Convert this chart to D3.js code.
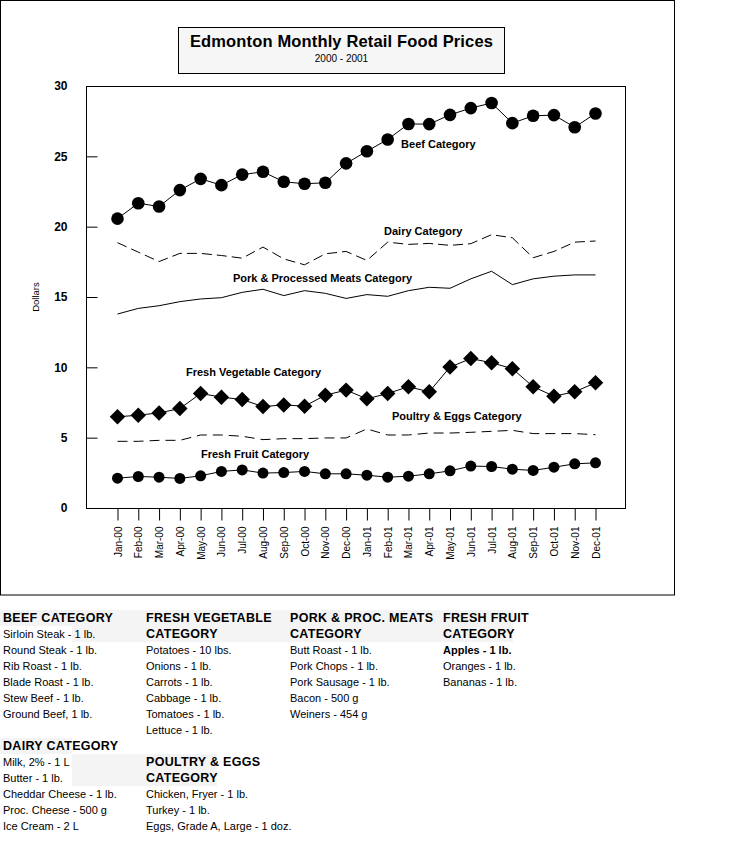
<!DOCTYPE html>
<html><head><meta charset="utf-8">
<script src="https://cdn.jsdelivr.net/npm/d3@7"></script>
<style>body{margin:0;background:#fff}svg{display:block}</style>
</head><body>
<script>
const months = ["Jan-00","Feb-00","Mar-00","Apr-00","May-00","Jun-00","Jul-00","Aug-00","Sep-00","Oct-00","Nov-00","Dec-00",
"Jan-01","Feb-01","Mar-01","Apr-01","May-01","Jun-01","Jul-01","Aug-01","Sep-01","Oct-01","Nov-01","Dec-01"];
const beef = [20.57,21.67,21.43,22.6,23.4,22.95,23.7,23.9,23.19,23.05,23.12,24.5,25.36,26.2,27.3,27.29,27.95,28.43,28.79,27.36,27.88,27.93,27.07,28.05];
const dairy = [18.86,18.19,17.52,18.1,18.1,17.95,17.76,18.55,17.71,17.29,18.07,18.24,17.6,18.9,18.74,18.81,18.67,18.79,19.43,19.21,17.79,18.24,18.9,18.98];
const pork = [13.79,14.19,14.38,14.67,14.86,14.95,15.33,15.55,15.1,15.45,15.26,14.9,15.17,15.05,15.45,15.69,15.62,16.29,16.83,15.88,16.29,16.48,16.57,16.57];
const vegetable = [6.48,6.6,6.76,7.07,8.14,7.88,7.71,7.21,7.33,7.24,8.02,8.38,7.76,8.14,8.62,8.26,10.02,10.62,10.33,9.9,8.62,7.95,8.26,8.9];
const poultry = [4.74,4.74,4.81,4.81,5.19,5.19,5.1,4.86,4.93,4.93,4.98,4.98,5.62,5.19,5.19,5.33,5.33,5.38,5.45,5.52,5.29,5.29,5.29,5.21];
const fruit = [2.12,2.24,2.19,2.1,2.29,2.6,2.71,2.48,2.52,2.6,2.43,2.43,2.33,2.19,2.26,2.43,2.64,2.98,2.95,2.76,2.67,2.9,3.14,3.21];
const yTicks = [0,5,10,15,20,25,30];
// series label anchors: [text, month index (fractional), value]
const seriesLabels = [
  ["Beef Category",13.67,25.57],
  ["Dairy Category",12.85,19.43],
  ["Pork & Processed Meats Category",5.58,16.07],
  ["Fresh Vegetable Category",3.32,9.36],
  ["Poultry & Eggs Category",13.23,6.29],
  ["Fresh Fruit Category",4.04,3.57]
];
const legendCols = [
  {x:3, groups:[
    {head:["BEEF CATEGORY"], items:["Sirloin Steak - 1 lb.","Round Steak - 1 lb.","Rib Roast - 1 lb.","Blade Roast - 1 lb.","Stew Beef - 1 lb.","Ground Beef, 1 lb."]},
    {head:["DAIRY CATEGORY"], items:["Milk, 2% - 1 L","Butter - 1 lb.","Cheddar Cheese - 1 lb.","Proc. Cheese - 500 g","Ice Cream - 2 L"], gap:1}
  ]},
  {x:146, groups:[
    {head:["FRESH VEGETABLE","CATEGORY"], items:["Potatoes - 10 lbs.","Onions - 1 lb.","Carrots - 1 lb.","Cabbage - 1 lb.","Tomatoes - 1 lb.","Lettuce - 1 lb."]},
    {head:["POULTRY & EGGS","CATEGORY"], items:["Chicken, Fryer - 1 lb.","Turkey - 1 lb.","Eggs, Grade A, Large - 1 doz."], gap:1}
  ]},
  {x:290, groups:[
    {head:["PORK & PROC. MEATS","CATEGORY"], items:["Butt Roast - 1 lb.","Pork Chops - 1 lb.","Pork Sausage - 1 lb.","Bacon - 500 g","Weiners - 454 g"]}
  ]},
  {x:443, groups:[
    {head:["FRESH FRUIT","CATEGORY"], items:["Apples - 1 lb.","Oranges - 1 lb.","Bananas - 1 lb."], boldFirst:true}
  ]}
];

const W=731,H=851;
const svg=d3.select("body").append("svg").attr("width",W).attr("height",H);
const plot={l:86,t:86,r:625,b:508};

// outer frame
svg.append("rect").attr("x",0.5).attr("y",0.5).attr("width",674).attr("height",594.5)
  .attr("fill","#fff").attr("stroke","#000");

// title box
svg.append("rect").attr("x",178.5).attr("y",27.5).attr("width",326).attr("height",46)
  .attr("fill","#f6f6f6").attr("stroke","#000");
svg.append("text").attr("x",341.5).attr("y",47).attr("text-anchor","middle")
  .attr("font-family","Liberation Sans, Arial, sans-serif").attr("font-weight","bold").attr("font-size",16.5)
  .attr("letter-spacing",0.15)
  .text("Edmonton Monthly Retail Food Prices");
svg.append("text").attr("x",341.5).attr("y",62).attr("text-anchor","middle")
  .attr("font-family","Liberation Sans, Arial, sans-serif").attr("font-size",10)
  .text("2000 - 2001");

const x=d3.scaleLinear().domain([0,23]).range([117,595]);
const y=d3.scaleLinear().domain([0,30]).range([plot.b,plot.t]);

// plot frame
svg.append("rect").attr("x",plot.l+0.5).attr("y",plot.t+0.5).attr("width",plot.r-plot.l).attr("height",plot.b-plot.t)
  .attr("fill","#fff").attr("stroke","#000");

// y axis
const ya=svg.append("g").attr("transform",`translate(${plot.l+0.5},0)`)
  .call(d3.axisLeft(y).tickValues(yTicks).tickSizeInner(-11).tickSizeOuter(0).tickPadding(19));
ya.select(".domain").remove();
ya.selectAll("line").attr("stroke","#000");
ya.selectAll("text").attr("font-family","Liberation Sans, Arial, sans-serif").attr("font-weight","bold").attr("font-size",12).attr("fill","#000");
svg.append("text").attr("transform","translate(39,297) rotate(-90)").attr("text-anchor","middle")
  .attr("font-family","Liberation Sans, Arial, sans-serif").attr("font-size",9.5).text("Dollars");

// x axis
const xa=svg.append("g").attr("transform",`translate(0.5,${plot.b+0.5})`)
  .call(d3.axisBottom(x).tickValues(d3.range(months.length)).tickFormat(i=>months[i]).tickSizeInner(12).tickSizeOuter(0));
xa.select(".domain").remove();
xa.selectAll("line").attr("stroke","#000");
xa.selectAll("text").attr("transform","rotate(-90)").attr("text-anchor","end")
  .attr("x",-18).attr("y",0).attr("dy","0.35em")
  .attr("font-family","Liberation Sans, Arial, sans-serif").attr("font-size",10).attr("fill","#000");

const line=d3.line().x((d,i)=>x(i)+0.5).y(d=>y(d));
function drawLine(data,dash){
  svg.append("path").datum(data).attr("d",line).attr("fill","none").attr("stroke","#000").attr("stroke-width",1)
    .attr("stroke-dasharray",dash||null);
}
drawLine(dairy,"10,5");
drawLine(pork);
drawLine(poultry,"10,6");
drawLine(beef);
drawLine(vegetable);
drawLine(fruit);

svg.append("g").selectAll("circle").data(beef).join("circle")
  .attr("cx",(d,i)=>x(i)+0.5).attr("cy",d=>y(d)).attr("r",6.3).attr("fill","#000");
svg.append("g").selectAll("path").data(vegetable).join("path")
  .attr("d",d3.symbol(d3.symbolSquare,120))
  .attr("transform",(d,i)=>`translate(${x(i)+0.5},${y(d)}) rotate(45)`).attr("fill","#000");
svg.append("g").selectAll("circle").data(fruit).join("circle")
  .attr("cx",(d,i)=>x(i)+0.5).attr("cy",d=>y(d)).attr("r",5.5).attr("fill","#000");

// series labels
svg.append("g").selectAll("text").data(seriesLabels).join("text")
  .attr("x",d=>x(d[1])).attr("y",d=>y(d[2]))
  .attr("font-family","Liberation Sans, Arial, sans-serif").attr("font-weight","bold").attr("font-size",11)
  .text(d=>d[0]);

// legend background patches
const bg="#f4f4f4";
[[0,610,513,16],[72,626,441,16],[0,738,72,16],[72,754,145,32]].forEach(r=>{
  svg.append("rect").attr("x",r[0]).attr("y",r[1]).attr("width",r[2]).attr("height",r[3]).attr("fill",bg);
});

// legend text
const lh=16, top0=622;
legendCols.forEach(col=>{
  let row=0;
  col.groups.forEach(g=>{
    if(g.gap) row+= g.gap;
    g.head.forEach(h=>{
      svg.append("text").attr("x",col.x).attr("y",top0+row*lh)
        .attr("font-family","Liberation Sans, Arial, sans-serif").attr("font-weight","bold").attr("font-size",12.5)
        .attr("letter-spacing",0.3).text(h);
      row++;
    });
    g.items.forEach((it,k)=>{
      svg.append("text").attr("x",col.x).attr("y",top0+row*lh-0.5)
        .attr("font-family","Liberation Sans, Arial, sans-serif").attr("font-size",11)
        .attr("font-weight",(g.boldFirst&&k===0)?"bold":"normal").text(it);
      row++;
    });
  });
});
</script>
</body></html>
